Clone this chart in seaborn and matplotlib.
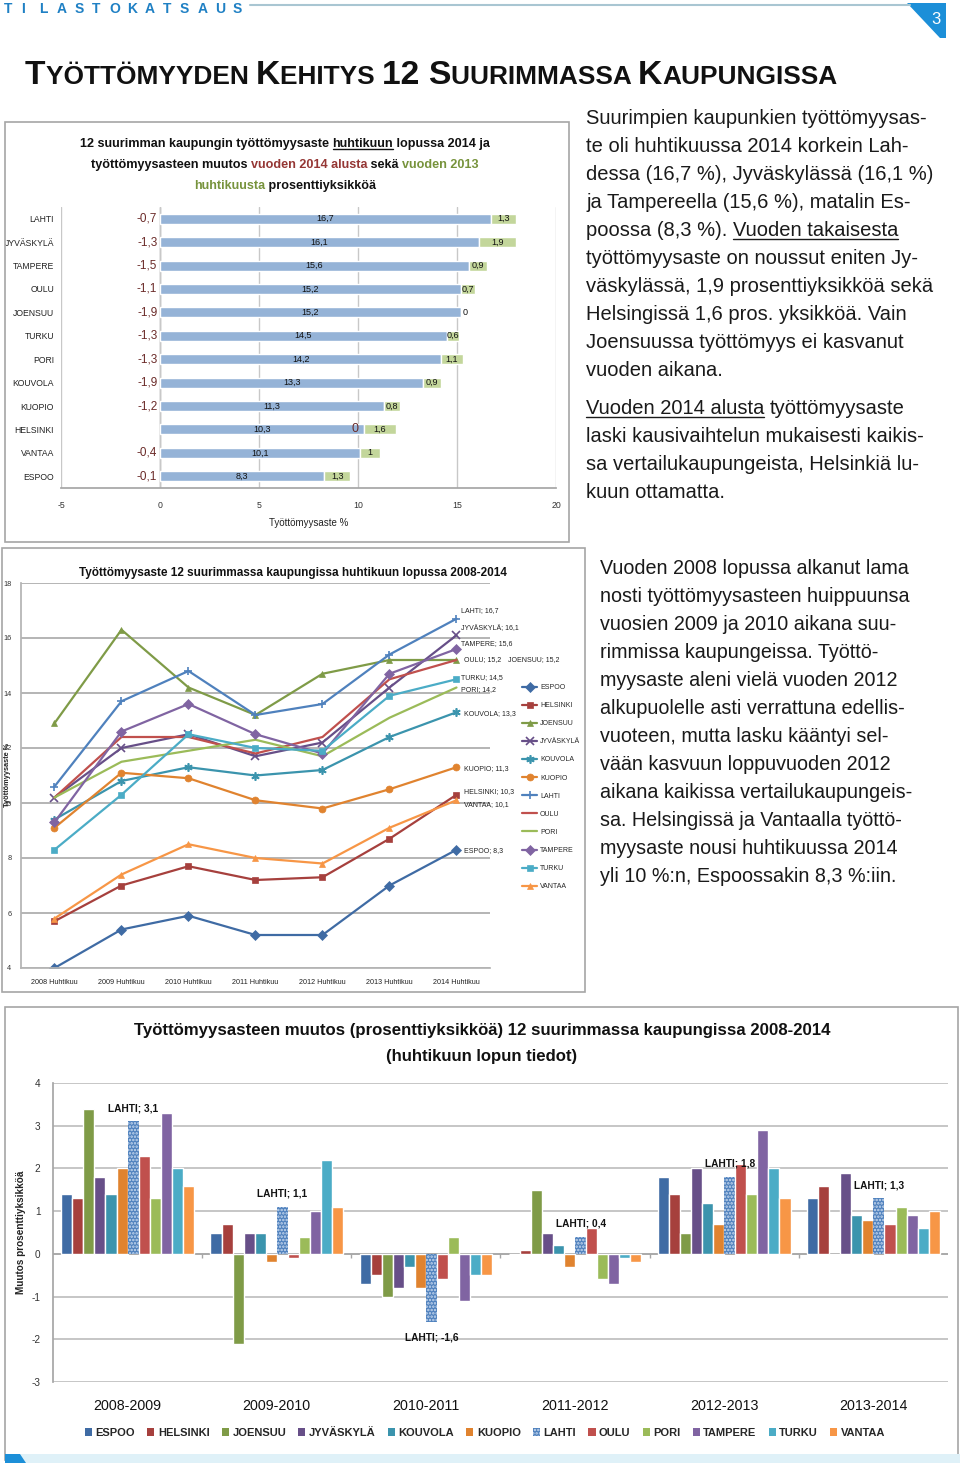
import numpy as np
import pandas as pd
import matplotlib
matplotlib.use('Agg')
import matplotlib.pyplot as plt
import seaborn as sns
from matplotlib.patches import Rectangle, Polygon, Patch
from matplotlib.lines import Line2D

sns.set_theme(style='white')
plt.rcParams['font.family'] = ['Liberation Sans', 'DejaVu Sans']
plt.rcParams['hatch.linewidth'] = 1.2

NARROW = ['Liberation Sans', 'DejaVu Sans']
W, H = 960, 1463

# ---- data -------------------------------------------------------------
bar_cities = ['LAHTI', 'JYVÄSKYLÄ', 'TAMPERE', 'OULU', 'JOENSUU', 'TURKU',
              'PORI', 'KOUVOLA', 'KUOPIO', 'HELSINKI', 'VANTAA', 'ESPOO']
rate_2014 = [16.7, 16.1, 15.6, 15.2, 15.2, 14.5, 14.2, 13.3, 11.3, 10.3, 10.1, 8.3]
chg_since_2013 = [1.3, 1.9, 0.9, 0.7, 0.0, 0.6, 1.1, 0.9, 0.8, 1.6, 1.0, 1.3]
chg_since_jan = [-0.7, -1.3, -1.5, -1.1, -1.9, -1.3, -1.3, -1.9, -1.2, 0.0, -0.4, -0.1]

cities = ['ESPOO', 'HELSINKI', 'JOENSUU', 'JYVÄSKYLÄ', 'KOUVOLA', 'KUOPIO',
          'LAHTI', 'OULU', 'PORI', 'TAMPERE', 'TURKU', 'VANTAA']
years = ['2008 Huhtikuu', '2009 Huhtikuu', '2010 Huhtikuu', '2011 Huhtikuu',
         '2012 Huhtikuu', '2013 Huhtikuu', '2014 Huhtikuu']
espoo = [4.0, 5.4, 5.9, 5.2, 5.2, 7.0, 8.3]
helsinki = [5.7, 7.0, 7.7, 7.2, 7.3, 8.7, 10.3]
joensuu = [12.9, 16.3, 14.2, 13.2, 14.7, 15.2, 15.2]
jyvaskyla = [10.2, 12.0, 12.5, 11.7, 12.2, 14.2, 16.1]
kouvola = [9.4, 10.8, 11.3, 11.0, 11.2, 12.4, 13.3]
kuopio = [9.1, 11.1, 10.9, 10.1, 9.8, 10.5, 11.3]
lahti = [10.6, 13.7, 14.8, 13.2, 13.6, 15.4, 16.7]
oulu = [10.2, 12.4, 12.4, 11.8, 12.4, 14.5, 15.2]
pori = [10.2, 11.5, 11.9, 12.3, 11.7, 13.1, 14.2]
tampere = [9.3, 12.6, 13.6, 12.5, 11.8, 14.7, 15.6]
turku = [8.3, 10.3, 12.5, 12.0, 11.9, 13.9, 14.5]
vantaa = [5.8, 7.4, 8.5, 8.0, 7.8, 9.1, 10.1]
rates = dict(zip(cities, [espoo, helsinki, joensuu, jyvaskyla, kouvola, kuopio,
                          lahti, oulu, pori, tampere, turku, vantaa]))

periods = ['2008-2009', '2009-2010', '2010-2011', '2011-2012', '2012-2013', '2013-2014']
changes = {
    'ESPOO':     [1.4, 0.5, -0.7, 0.0, 1.8, 1.3],
    'HELSINKI':  [1.3, 0.7, -0.5, 0.1, 1.4, 1.6],
    'JOENSUU':   [3.4, -2.1, -1.0, 1.5, 0.5, 0.0],
    'JYVÄSKYLÄ': [1.8, 0.5, -0.8, 0.5, 2.0, 1.9],
    'KOUVOLA':   [1.4, 0.5, -0.3, 0.2, 1.2, 0.9],
    'KUOPIO':    [2.0, -0.2, -0.8, -0.3, 0.7, 0.8],
    'LAHTI':     [3.1, 1.1, -1.6, 0.4, 1.8, 1.3],
    'OULU':      [2.3, -0.1, -0.6, 0.6, 2.1, 0.7],
    'PORI':      [1.3, 0.4, 0.4, -0.6, 1.4, 1.1],
    'TAMPERE':   [3.3, 1.0, -1.1, -0.7, 2.9, 0.9],
    'TURKU':     [2.0, 2.2, -0.5, -0.1, 2.0, 0.6],
    'VANTAA':    [1.6, 1.1, -0.5, -0.2, 1.3, 1.0],
}

colors = {'ESPOO': '#3f6ba4', 'HELSINKI': '#a6403d', 'JOENSUU': '#7f9b47',
          'JYVÄSKYLÄ': '#674f88', 'KOUVOLA': '#3b94ad', 'KUOPIO': '#e0832f',
          'LAHTI': '#4f81bd', 'OULU': '#c0504d', 'PORI': '#9bbb59',
          'TAMPERE': '#8064a2', 'TURKU': '#4bacc6', 'VANTAA': '#f79646'}
markers = {'ESPOO': 'D', 'HELSINKI': 's', 'JOENSUU': '^', 'JYVÄSKYLÄ': 'x',
           'KOUVOLA': (6, 2, 0), 'KUOPIO': 'o', 'LAHTI': '+', 'OULU': None,
           'PORI': None, 'TAMPERE': 'D', 'TURKU': 's', 'VANTAA': '^'}


def fi(v):
    return ('%g' % v).replace('.', ',')


# ---- helpers (pixel layout) ------------------------------------------
fig = plt.figure(figsize=(W / 100, H / 100), dpi=100)
fig.patch.set_facecolor('white')
R = fig.canvas.get_renderer()


def box(x0, y0, x1, y1):
    return [x0 / W, 1 - y1 / H, (x1 - x0) / W, (y1 - y0) / H]


def frame(x0, y0, x1, y1):
    fig.add_artist(Rectangle((x0 / W, 1 - y1 / H), (x1 - x0) / W, (y1 - y0) / H,
                             transform=fig.transFigure, fill=False,
                             edgecolor='#a6a6a6', lw=1.2))


def tw(s, kw):
    a = fig.text(0, 0, '|' + s + '|', **kw)
    b = fig.text(0, 0, '||', **kw)
    w = a.get_window_extent(R).width - b.get_window_extent(R).width
    a.remove()
    b.remove()
    return w


def rich(x, y, parts, ha='left', fit=None, **base):
    """parts: (text, color[, underline]) drawn on one baseline (pixel coords)."""
    kws = [{**base, 'color': p[1]} for p in parts]
    ws = [tw(p[0], k) for p, k in zip(parts, kws)]
    if fit:
        fs = base['fontsize'] * fit / sum(ws)
        for k in kws:
            k['fontsize'] = fs
        ws = [tw(p[0], k) for p, k in zip(parts, kws)]
    x0 = x - sum(ws) / 2 if ha == 'center' else x
    for p, k, w in zip(parts, kws, ws):
        fig.text(x0 / W, 1 - y / H, p[0], ha='left', va='baseline', **k)
        if len(p) > 2 and p[2]:
            wu = tw(p[0].rstrip(), k)
            yy = 1 - (y + k['fontsize'] * 0.2) / H
            fig.add_artist(Line2D([x0 / W, (x0 + wu) / W], [yy, yy], color=p[1],
                                  lw=1.0, transform=fig.transFigure))
        x0 += w
    return kws[0]['fontsize']


# ---- page header ------------------------------------------------------
for i, ch in enumerate('TILASTOKATSAUS'):
    fig.text((4 + i * 17.6) / W, 1 - 13 / H, ch, fontsize=10, fontweight='bold',
             color='#1f80c4', ha='left', va='baseline')
fig.add_artist(Line2D([250 / W, 910 / W], [1 - 5 / H] * 2, color='#a9c6d2', lw=1.5,
                      transform=fig.transFigure))
fig.add_artist(Polygon([(907 / W, 1 - 3 / H), (946 / W, 1 - 3 / H), (946 / W, 1 - 38 / H),
                        (940 / W, 1 - 38 / H)], closed=True, transform=fig.transFigure,
                       facecolor='#1c8fd8', edgecolor='none'))
fig.text(936 / W, 1 - 20 / H, '3', color='white', fontsize=12, ha='center', va='center')

big, small = 24.2, 18.9
title_parts = [('T', big), ('YÖTTÖMYYDEN ', small), ('K', big), ('EHITYS ', small),
               ('12 ', big), ('S', big), ('UURIMMASSA ', small), ('K', big),
               ('AUPUNGISSA', small)]
xx = 25
for s, fs in title_parts:
    k = dict(fontsize=fs, fontweight='bold', color='#111111')
    fig.text(xx / W, 1 - 84 / H, s, ha='left', va='baseline', **k)
    xx += tw(s, k)

# ---- right-hand paragraphs ---------------------------------------------
INK = '#1a1a1a'
TXT = dict(fontsize=14.5, family=['Liberation Sans', 'DejaVu Sans'])
para1 = [[('Suurimpien kaupunkien työttömyysas-', INK)],
         [('te oli huhtikuussa 2014 korkein Lah-', INK)],
         [('dessa (16,7 %), Jyväskylässä (16,1 %)', INK)],
         [('ja Tampereella (15,6 %), matalin Es-', INK)],
         [('poossa (8,3 %). ', INK), ('Vuoden takaisesta', INK, True)],
         [('työttömyysaste on noussut eniten Jy-', INK)],
         [('väskylässä, 1,9 prosenttiyksikköä sekä', INK)],
         [('Helsingissä 1,6 pros. yksikköä. Vain', INK)],
         [('Joensuussa työttömyys ei kasvanut', INK)],
         [('vuoden aikana.', INK)]]
for i, line in enumerate(para1):
    rich(586, 124 + i * 28, line, **TXT)
para2 = [[('Vuoden 2014 alusta ', INK, True), ('työttömyysaste', INK)],
         [('laski kausivaihtelun mukaisesti kaikis-', INK)],
         [('sa vertailukaupungeista, Helsinkiä lu-', INK)],
         [('kuun ottamatta.', INK)]]
for i, line in enumerate(para2):
    rich(586, 414 + i * 28, line, **TXT)
para3 = ['Vuoden 2008 lopussa alkanut lama', 'nosti työttömyysasteen huippuunsa',
         'vuosien 2009 ja 2010 aikana suu-', 'rimmissa kaupungeissa. Työttö-',
         'myysaste aleni vielä vuoden 2012', 'alkupuolelle asti verrattuna edellis-',
         'vuoteen, mutta lasku kääntyi sel-', 'vään kasvuun loppuvuoden 2012',
         'aikana kaikissa vertailukaupungeis-', 'sa. Helsingissä ja Vantaalla työttö-',
         'myysaste nousi huhtikuussa 2014', 'yli 10 %:n, Espoossakin 8,3 %:iin.']
for i, s in enumerate(para3):
    rich(600, 574 + i * 28, [(s, INK)], fontsize=14.2, family=TXT['family'])

# ---- chart 1: horizontal stacked bars ------------------------------------
frame(5, 122, 569, 542)
fs1 = rich(285, 147, [('12 suurimman kaupungin työttömyysaste ', '#111'),
                      ('huhtikuun', '#111', True), (' lopussa 2014 ja', '#111')],
           ha='center', fit=411, fontsize=11, fontweight='bold', family=NARROW)
T1 = dict(fontsize=fs1, fontweight='bold', family=NARROW)
rich(285, 168, [('työttömyysasteen muutos ', '#111'), ('vuoden 2014 alusta', '#953735'),
                (' sekä ', '#111'), ('vuoden 2013', '#77933c')], ha='center', **T1)
rich(285, 189, [('huhtikuusta', '#77933c'), (' prosenttiyksikköä', '#111')], ha='center', **T1)

ax1 = fig.add_axes(box(61, 207, 556, 488))
sns.barplot(x=rate_2014, y=bar_cities, orient='h', color='#95b3d7', width=0.43,
            saturation=1, ax=ax1)
ax1.barh(np.arange(len(bar_cities)), chg_since_2013, left=rate_2014, height=0.43,
         color='#c3d69b')
ax1.set_xlim(-5, 20)
ax1.set_ylim(11.5, -0.5)
ax1.set_xticks(range(-5, 21, 5))
ax1.set_xticklabels([str(v) for v in range(-5, 21, 5)], fontsize=6.3, family=NARROW,
                    color='#333')
ax1.set_yticks(range(12))
ax1.set_yticklabels(bar_cities, fontsize=6.2, family=NARROW, color='#222')
ax1.tick_params(axis='y', length=0, pad=5)
ax1.tick_params(axis='x', length=0, pad=9)
ax1.grid(axis='x', color='#c8c8c8', lw=1)
ax1.set_axisbelow(True)
for s in ['top', 'right', 'left']:
    ax1.spines[s].set_visible(False)
ax1.spines['bottom'].set_color('#a6a6a6')
ax1.axvline(0, color='#a6a6a6', lw=1, zorder=0.5)
ax1.set_xlabel('Työttömyysaste %', fontsize=7, family=NARROW, color='#222', labelpad=6)
ax1.set_ylabel('')
for i in range(12):
    r, g, j = rate_2014[i], chg_since_2013[i], chg_since_jan[i]
    ax1.text(r / 2, i, fi(r), ha='center', va='center', fontsize=6.5, family=NARROW,
             color='#111')
    if g > 0:
        ax1.text(r + g / 2, i, fi(g), ha='center', va='center', fontsize=6.5,
                 family=NARROW, color='#111')
    else:
        ax1.text(r + 0.1, i, fi(g), ha='left', va='center', fontsize=6.5,
                 family=NARROW, color='#111')
    if j < 0:
        ax1.text(-0.65, i, fi(j), ha='center', va='center', fontsize=8.5,
                 family=NARROW, color='#6b2b29')
    else:
        ax1.text(r - 0.45, i, fi(j), ha='center', va='center', fontsize=9,
                 family=NARROW, color='#6b2b29')

# ---- chart 2: lines ------------------------------------------------------
frame(2, 548, 585, 992)
rich(293, 576, [('Työttömyysaste 12 suurimmassa kaupungissa huhtikuun lopussa 2008-2014',
                 '#111')], ha='center', fit=427, fontsize=10, fontweight='bold',
     family=NARROW)
ax2 = fig.add_axes(box(21, 583, 490, 968))
xpos = np.arange(len(years))
for c in cities:
    mk = markers[c]
    thin = mk in ('x', '+', (6, 2, 0))
    sns.lineplot(x=xpos, y=rates[c], color=colors[c], lw=1.6, marker=mk,
                 markersize=6 if thin else 5, markeredgewidth=1.2 if thin else 0.5,
                 markeredgecolor=colors[c], ax=ax2, label=c)
ax2.set_xlim(-0.5, 6.5)
ax2.set_ylim(4, 18)
ax2.set_yticks(range(4, 19, 2))
ax2.set_yticklabels([str(v) for v in range(4, 19, 2)], fontsize=5.3, family=NARROW,
                    color='#333')
ax2.set_xticks(xpos)
ax2.set_xticklabels(years, fontsize=5.2, family=NARROW, color='#222')
ax2.tick_params(length=0)
ax2.tick_params(axis='x', pad=8)
ax2.tick_params(axis='y', pad=7)
ax2.grid(axis='y', color='#b4b4b4', lw=1.4)
ax2.set_axisbelow(True)
for s in ['top', 'right']:
    ax2.spines[s].set_visible(False)
ax2.spines['left'].set_color('#b4b4b4')
ax2.spines['bottom'].set_color('#b4b4b4')
ax2.set_ylabel('')
fig.text(8 / W, 1 - 775 / H, 'Työttömyysaste %', rotation=90, ha='center', va='center',
         fontsize=5.3, fontweight='bold', family=NARROW, color='#222')
end_labels = [('LAHTI', 0, 8), ('JYVÄSKYLÄ', 0, 7), ('TAMPERE', 0, 5), ('OULU', 3, 0),
              ('TURKU', 0, 2), ('PORI', 0, -2.5), ('KOUVOLA', 3, -1), ('KUOPIO', 3, -1),
              ('HELSINKI', 3, 3), ('VANTAA', 3, -4), ('ESPOO', 3, -1)]
for c, dx, dy in end_labels:
    v = rates[c][-1]
    ax2.annotate(f'{c}; {fi(v)}', (6, v), xytext=(3 + dx * 0.72, dy * 0.72),
                 textcoords='offset points', ha='left', va='center', fontsize=5,
                 family=NARROW, color='#222')
ax2.annotate(f'JOENSUU; {fi(joensuu[-1])}', (6, joensuu[-1]), xytext=(37, 0),
             textcoords='offset points', ha='left', va='center', fontsize=5,
             family=NARROW, color='#222')
h, l = ax2.get_legend_handles_labels()
ax2.legend(h, l, loc='upper left', bbox_to_anchor=(522 / W, 1 - 684 / H),
           bbox_transform=fig.transFigure, frameon=False,
           prop=dict(family=NARROW, size=5), handlelength=2.2, labelspacing=1.6,
           handletextpad=0.4, borderaxespad=0, borderpad=0)

# ---- chart 3: grouped bars -------------------------------------------------
frame(5, 1007, 958, 1460)
fs3 = rich(482, 1035, [('Työttömyysasteen muutos (prosenttiyksikköä) 12 suurimmassa '
                        'kaupungissa 2008-2014', '#111')], ha='center', fit=696,
           fontsize=13, fontweight='bold', family=NARROW)
rich(482, 1061, [('(huhtikuun lopun tiedot)', '#111')], ha='center', fontsize=fs3,
     fontweight='bold', family=NARROW)

df3 = pd.DataFrame(changes, index=periods).reset_index(names='period')
df3 = df3.melt(id_vars='period', var_name='city', value_name='change')
ax3 = fig.add_axes(box(53, 1083, 948, 1382))
sns.barplot(data=df3, x='period', y='change', hue='city', order=periods, hue_order=cities,
            palette=colors, width=12 / 13.5, saturation=1, legend=False, ax=ax3)
lahti_bars = ax3.containers[cities.index('LAHTI')]
for b in lahti_bars:
    b.set_hatch('.....')
    b.set_edgecolor('#c9daf0')
    b.set_linewidth(0)
for b, v in zip(lahti_bars, changes['LAHTI']):
    xc = b.get_x() + b.get_width() / 2
    off = 9.5 if v >= 0 else -11
    ax3.annotate(f'LAHTI; {fi(v)}', (xc, v), xytext=(0, off), textcoords='offset points',
                 ha='center', va='center', fontsize=7.3, fontweight='bold',
                 family=NARROW, color='#111')
ax3.set_xlim(-0.5, 5.5)
ax3.set_ylim(-3, 4)
ax3.set_yticks(range(-3, 5))
ax3.set_yticklabels([str(v) for v in range(-3, 5)], fontsize=7.2, family=NARROW,
                    color='#333')
ax3.set_xticklabels(periods, fontsize=10.3, family=NARROW, color='#111')
ax3.tick_params(length=0)
ax3.tick_params(axis='x', pad=12)
ax3.tick_params(axis='y', pad=9)
ax3.grid(axis='y', color='#bcbcbc', lw=1.2)
ax3.set_axisbelow(True)
for s in ['top', 'right', 'bottom']:
    ax3.spines[s].set_visible(False)
ax3.spines['left'].set_color('#a6a6a6')
ax3.axhline(0, color='#a6a6a6', lw=1.2, zorder=0.8)
ax3.vlines(np.arange(0.5, 5.5, 1), -0.1, 0, color='#a6a6a6', lw=1)
ax3.set_xlabel('')
ax3.set_ylabel('Muutos prosenttiyksikköä', fontsize=7.2, fontweight='bold', family=NARROW,
               color='#222')
ax3.yaxis.set_label_coords((26 - 53) / 895, 0.5)
leg_h = []
for c in cities:
    if c == 'LAHTI':
        leg_h.append(Patch(facecolor=colors[c], hatch='.....', edgecolor='#c9daf0', lw=0))
    else:
        leg_h.append(Patch(facecolor=colors[c], edgecolor='none'))
ax3.legend(leg_h, cities, loc='center', bbox_to_anchor=(485 / W, 1 - 1433 / H),
           bbox_transform=fig.transFigure, ncol=12, frameon=False,
           prop=dict(family=NARROW, size=8, weight='bold'), handlelength=0.65,
           handleheight=0.65, handletextpad=0.3, columnspacing=1.1, borderpad=0)

# bottom band
fig.add_artist(Rectangle((20 / W, 0), 940 / W, 9 / H, transform=fig.transFigure,
                         facecolor='#dff1f8', edgecolor='none'))
fig.add_artist(Polygon([(5 / W, 0), (5 / W, 9 / H), (20 / W, 9 / H), (26 / W, 0)],
                       closed=True, transform=fig.transFigure, facecolor='#1c8fd8',
                       edgecolor='none'))

fig.savefig('out.png', dpi=100)
